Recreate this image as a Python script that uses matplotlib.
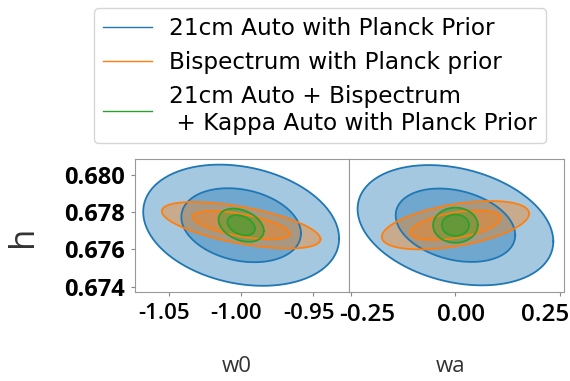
import numpy as np
import matplotlib
matplotlib.use("Agg")
from matplotlib import pyplot as plt
from matplotlib.lines import Line2D
from matplotlib.transforms import ScaledTranslation

plt.rcParams["axes.unicode_minus"] = False

# === DATA ===
labels = [
    "21cm Auto with Planck Prior",
    "Bispectrum with Planck prior",
    "21cm Auto + Bispectrum\n + Kappa Auto with Planck Prior",
]
colors = ["tab:blue", "tab:orange", "tab:green"]

h_fid = 0.6773
w0_fid = -1.0
wa_fid = 0.0

# marginal errors and h-correlation per probe (blue, orange, green)
w0_sigma = [0.0273, 0.0221, 0.0063]
w0_h_sigma = [0.00131, 0.000503, 0.00036]
w0_rho = [-0.22, -0.60, -0.34]

wa_sigma = [0.0942, 0.0709, 0.0215]
wa_h_sigma = [0.00130, 0.000523, 0.00038]
wa_rho = [-0.27, 0.48, 0.0]

dchi2 = [6.17, 2.30]  # 2 sigma, 1 sigma for 2 params

w0_ticks = [-1.05, -1.00, -0.95]
wa_ticks = [-0.25, 0.00, 0.25]
h_ticks = [0.674, 0.676, 0.678, 0.680]

# tick label nudges in pixels (labels sit a bit off their ticks)
w0_nudge = [-5, -5, -4]
wa_nudge = [16, 6, -15]


def ellipse(mx, my, sx, sy, rho, d):
    cov = np.array([[sx * sx, rho * sx * sy], [rho * sx * sy, sy * sy]])
    L = np.linalg.cholesky(cov)
    t = np.linspace(0, 2 * np.pi, 200)
    pts = np.sqrt(d) * L @ np.vstack([np.cos(t), np.sin(t)])
    return mx + pts[0], my + pts[1]


# === PLOT ===
fig = plt.figure(figsize=(5.7, 3.81), dpi=100)
fig.subplots_adjust(left=0.2368, right=0.9895, top=0.5819, bottom=0.2344, wspace=0)
ax1 = fig.add_subplot(1, 2, 1)
ax2 = fig.add_subplot(1, 2, 2, sharey=ax1)

panels = [
    (ax1, w0_fid, w0_sigma, w0_h_sigma, w0_rho),
    (ax2, wa_fid, wa_sigma, wa_h_sigma, wa_rho),
]
for ax, fid, sig, hsig, rho in panels:
    for c, s, hs, r in zip(colors, sig, hsig, rho):
        for d in dchi2:
            x, y = ellipse(fid, h_fid, s, hs, r, d)
            ax.fill(x, y, color=c, alpha=0.4, lw=0)
            ax.plot(x, y, color=c, lw=1.3)

ax1.set_xlim(-1.0735, -0.925)
ax2.set_xlim(-0.2533, 0.2596)
ax1.set_ylim(0.67373, 0.68084)
ax1.set_xticks(w0_ticks)
ax2.set_xticks(wa_ticks)
ax1.set_yticks(h_ticks)
ax1.set_xticklabels([f"{v:.2f}" for v in w0_ticks],
                    family="Open Sans", weight="semibold", size=16)
ax2.set_xticklabels([f"{v:.2f}" for v in wa_ticks],
                    family="Open Sans", weight="semibold", size=17.5)
ax1.set_yticklabels([f"{v:.3f}" for v in h_ticks],
                    family="Open Sans", weight="bold", size=17)
ax2.tick_params(axis="y", left=False, labelleft=False)

for ax in (ax1, ax2):
    ax.tick_params(length=3, width=0.8, color="#888888")
    ax.tick_params(axis="x", pad=5)
    ax.tick_params(axis="y", pad=4)
    for sp in ax.spines.values():
        sp.set_color("#999999")
        sp.set_linewidth(0.8)

for ax, nudge in ((ax1, w0_nudge), (ax2, wa_nudge)):
    for lab, dx in zip(ax.get_xticklabels(), nudge):
        lab.set_transform(lab.get_transform() +
                          ScaledTranslation(dx / 100, 0, fig.dpi_scale_trans))

label_font = dict(family="Open Sans", size=16, color="#333333")
ax1.set_xlabel("w0", **label_font)
ax2.set_xlabel("wa", **label_font)
ax1.xaxis.label.set_va("center")
ax2.xaxis.label.set_va("center")
ax1.xaxis.set_label_coords(0.4745, -0.566)
ax2.xaxis.set_label_coords(0.469, -0.566)
ax1.set_ylabel("h", family="Open Sans", size=25, color="#333333", va="center")
ax1.yaxis.set_label_coords(-0.52, 0.42)

handles = [Line2D([], [], color=c, lw=1) for c in colors]
fig.legend(
    handles, labels,
    loc="upper left",
    bbox_to_anchor=(94 / 570, 1 - 8.3 / 381),
    bbox_transform=fig.transFigure,
    borderaxespad=0,
    prop=dict(family="DejaVu Sans", size=16.7),
    handlelength=2.1,
    handletextpad=0.75,
    labelspacing=0.47,
    borderpad=0.38,
)

fig.savefig("out.png", dpi=100)
